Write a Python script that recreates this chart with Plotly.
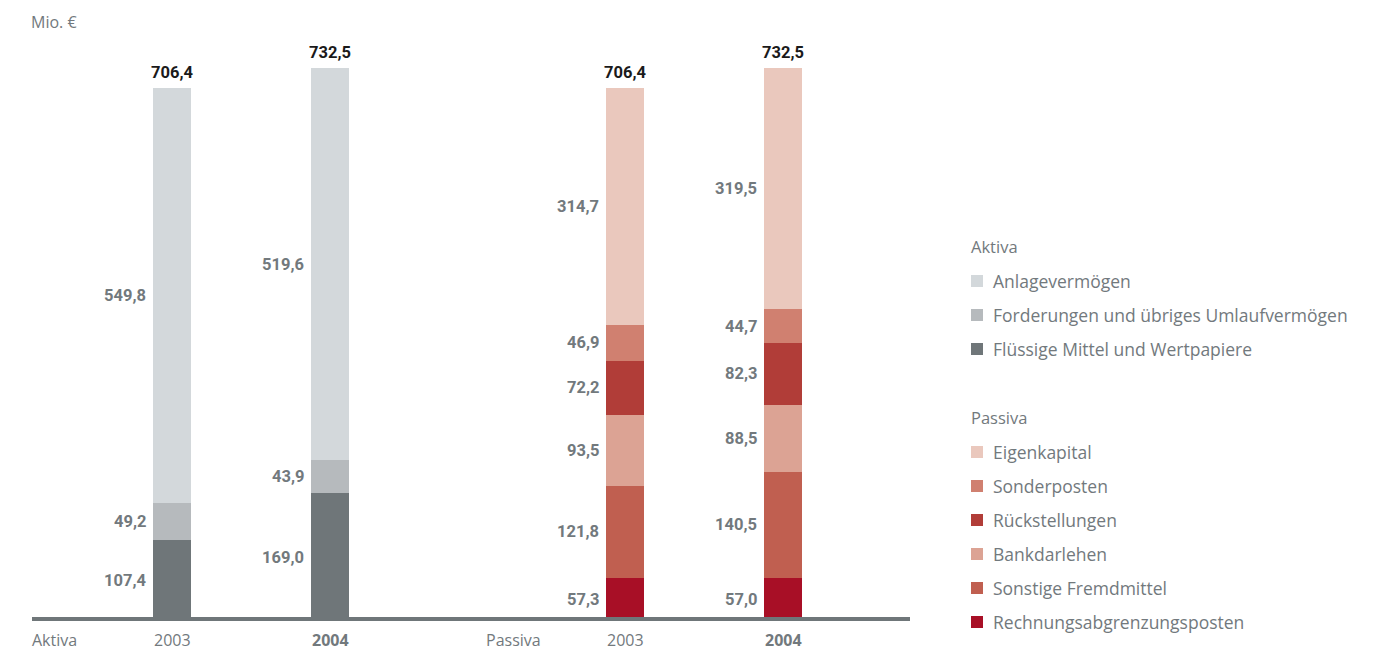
import plotly.graph_objects as go

# ---------------- data ----------------
years = ["2003", "2004"]

aktiva_names = ["Flüssige Mittel und Wertpapiere",
                "Forderungen und übriges Umlaufvermögen",
                "Anlagevermögen"]
aktiva_2003 = [107.4, 49.2, 549.8]
aktiva_2004 = [169.0, 43.9, 519.6]
aktiva_colors = ["#6f7679", "#b6babd", "#d3d8db"]

passiva_names = ["Rechnungsabgrenzungsposten", "Sonstige Fremdmittel",
                 "Bankdarlehen", "Rückstellungen", "Sonderposten", "Eigenkapital"]
passiva_2003 = [57.3, 121.8, 93.5, 72.2, 46.9, 314.7]
passiva_2004 = [57.0, 140.5, 88.5, 82.3, 44.7, 319.5]
passiva_colors = ["#a80f26", "#c05f50", "#dca394", "#b13d38", "#d08070", "#eac8bd"]

totals_aktiva = [706.4, 732.5]
totals_passiva = [706.4, 732.5]

# ---------------- layout constants ----------------
W, H = 1386, 652
MT, MB = 32, 31
PH = H - MT - MB
YMAX = 780
x_aktiva = [172, 330]
x_passiva = [625, 783]
BAR_W = 38
GRAY = "#72797d"
FONT = "Roboto, 'Liberation Sans', Arial, sans-serif"
FONT_REG = "'Open Sans', Roboto, Arial, sans-serif"


def fmt(v):
    return f"{v:.1f}".replace(".", ",")


def ypx(py):
    return (H - MB - py) / PH


fig = go.Figure()
annotations = []
shapes = []


def add_stack(xs, names, vals_by_year, colors, totals):
    for i, name in enumerate(names):
        fig.add_trace(go.Bar(
            x=xs, y=[vals_by_year[0][i], vals_by_year[1][i]],
            width=BAR_W, marker=dict(color=colors[i], line=dict(width=0)),
            name=name, showlegend=False, hoverinfo="skip"))
    for j, x in enumerate(xs):
        base = 0
        for i in range(len(names)):
            v = vals_by_year[j][i]
            annotations.append(dict(
                x=x - BAR_W / 2 - 5, y=base + v / 2, xref="x", yref="y",
                text=f"<b>{fmt(v)}</b>", showarrow=False, xanchor="right",
                yanchor="middle", font=dict(size=16.5, color=GRAY, family=FONT)))
            base += v
        annotations.append(dict(
            x=x, y=totals[j], xref="x", yref="y",
            text=f"<b>{fmt(totals[j])}</b>", showarrow=False, xanchor="center",
            yanchor="bottom", yshift=4, font=dict(size=16.5, color="#1a1a1a", family=FONT)))


add_stack(x_aktiva, aktiva_names, [aktiva_2003, aktiva_2004], aktiva_colors, totals_aktiva)
add_stack(x_passiva, passiva_names, [passiva_2003, passiva_2004], passiva_colors, totals_passiva)

# baseline
shapes.append(dict(type="line", xref="x", yref="y", x0=32, x1=910, y0=0, y1=0,
                   line=dict(color="#6f7679", width=8), layer="above"))

# x labels
xl_y = ypx(652)
for txt, x, anc in [("Aktiva", 31, "left"), ("Passiva", 485, "left")]:
    annotations.append(dict(x=x, y=xl_y, xref="x", yref="paper", text=txt, showarrow=False,
                            xanchor=anc, yanchor="bottom", borderpad=0,
                            font=dict(size=16, color=GRAY, family=FONT_REG)))
for xs in (x_aktiva, x_passiva):
    for j, yr in enumerate(years):
        t = f"<b>{yr}</b>" if j == 1 else yr
        annotations.append(dict(x=xs[j], y=xl_y, xref="x", yref="paper", text=t, showarrow=False,
                                xanchor="center", yanchor="bottom", borderpad=0,
                                font=dict(size=16, color=GRAY, family=FONT_REG)))

# unit
annotations.append(dict(x=29, y=ypx(22), xref="x", yref="paper", text="Mio. €", showarrow=False,
                        xanchor="left", yanchor="middle",
                        font=dict(size=16, color=GRAY, family=FONT_REG)))

# manual legend
LX = 971
def legend_block(title, ty, names, colors):
    annotations.append(dict(x=LX - 2, y=ypx(ty), xref="x", yref="paper", text=title, showarrow=False,
                            xanchor="left", yanchor="middle",
                            font=dict(size=16.5, color=GRAY, family=FONT_REG)))
    for k, (n, c) in enumerate(zip(names, colors)):
        cy = ty + 35 + 34 * k
        shapes.append(dict(type="rect", xref="x", yref="paper", x0=LX, x1=LX + 12,
                           y0=ypx(cy + 6), y1=ypx(cy - 6), fillcolor=c, line=dict(width=0)))
        annotations.append(dict(x=LX + 20, y=ypx(cy), xref="x", yref="paper", text=n,
                                showarrow=False, xanchor="left", yanchor="middle",
                                font=dict(size=17.5, color=GRAY, family=FONT_REG)))

legend_block("Aktiva", 246, aktiva_names[::-1], aktiva_colors[::-1])
legend_block("Passiva", 417, passiva_names[::-1], passiva_colors[::-1])

fig.update_layout(
    barmode="stack", width=W, height=H,
    margin=dict(l=0, r=0, t=MT, b=MB, pad=0),
    paper_bgcolor="white", plot_bgcolor="white",
    xaxis=dict(range=[0, W], visible=False, fixedrange=True),
    yaxis=dict(range=[0, YMAX], visible=False, fixedrange=True),
    annotations=annotations, shapes=shapes, showlegend=False,
    font=dict(family=FONT),
)

fig.write_html("out.html", config={"displayModeBar": False})
